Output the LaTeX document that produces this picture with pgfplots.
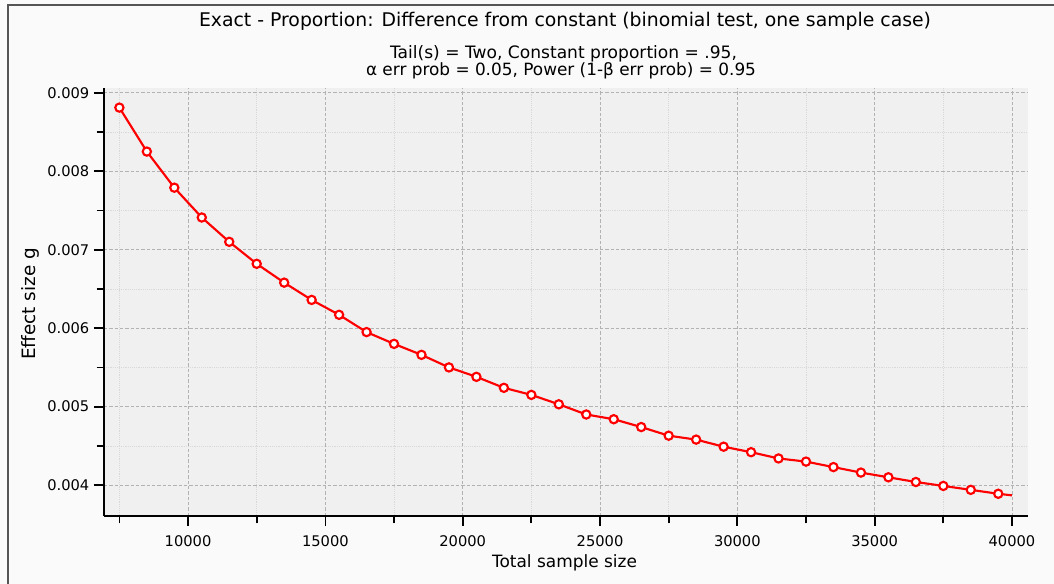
\documentclass[border=0pt]{standalone}
\usepackage{pgfplots}
\pgfplotsset{compat=1.18}
\usepackage{pgfplotstable}
\usepackage{fontspec}
\setmainfont{DejaVu Sans}
\definecolor{bgout}{HTML}{FAFAFA}
\definecolor{bgin}{HTML}{F0F0F0}
\definecolor{framec}{HTML}{555555}

% compute a font size (pt) that makes #3 be #2 px wide (1px = 0.75pt)
\newcommand\fitsize[3]{%
  \setbox0\hbox{\fontsize{10}{12}\selectfont #3}%
  \pgfmathsetmacro#1{10*#2*0.75/\the\wd0}%
}

\pgfplotstableread{
x y
7500 0.00881
8500 0.00825
9500 0.00779
10500 0.00741
11500 0.00710
12500 0.00682
13500 0.00658
14500 0.00636
15500 0.00617
16500 0.00595
17500 0.00580
18500 0.00566
19500 0.00550
20500 0.00538
21500 0.00524
22500 0.00515
23500 0.00503
24500 0.00490
25500 0.00484
26500 0.00474
27500 0.00463
28500 0.00458
29500 0.00449
30500 0.00442
31500 0.00434
32500 0.00430
33500 0.00423
34500 0.00416
35500 0.00410
36500 0.00404
37500 0.00399
38500 0.00394
39500 0.00389
40000 0.00387
}\datatable

\begin{document}
\fitsize\fsA{732}{Exact - Proportion: Difference from constant (binomial test, one sample case)}%
\fitsize\fsB{347}{Tail(s) = Two, Constant proportion = .95,}%
\fitsize\fsC{390}{α err prob = 0.05, Power (1-β err prob) = 0.95}%
\fitsize\fsD{145}{Total sample size}%
\fitsize\fsE{112}{Effect size g}%
\begin{tikzpicture}[x=0.75pt,y=0.75pt]
\fill[bgout] (0,0) rectangle (1054,584);
\useasboundingbox (0,0) rectangle (1054,584);
\draw[framec, line width=1.3pt] (8,-2) -- (8,579) -- (1056,579);

\begin{axis}[
  at={(104*0.75pt,68*0.75pt)}, anchor=south west,
  scale only axis, width=693pt, height=321pt,
  xmin=6940, xmax=40583, ymin=0.003607, ymax=0.00906,
  axis x line*=bottom, axis y line*=left,
  axis line style={line width=1.5pt, black},
  axis background/.style={fill=bgin},
  tick align=outside,
  xtick={10000,15000,20000,25000,30000,35000,40000},
  minor xtick={7500,12500,17500,22500,27500,32500,37500},
  ytick={0.004,0.005,0.006,0.007,0.008,0.009},
  minor ytick={0.0045,0.0055,0.0065,0.0075,0.0085},
  major tick length=7.5pt, minor tick length=5.5pt,
  major tick style={line width=1.3pt, black},
  minor tick style={line width=1.3pt, black},
  grid=both,
  major grid style={dash pattern=on 2.5pt off 1.5pt, line width=0.6pt, black!30},
  minor grid style={densely dotted, line width=0.6pt, black!15},
  scaled x ticks=false, scaled y ticks=false,
  xticklabel style={yshift=-4pt, /pgf/number format/.cd, set thousands separator={}},
  yticklabel style={/pgf/number format/.cd, fixed, fixed zerofill, precision=3},
  /pgf/number format/assume math mode=true,
  tick label style={font=\fontsize{11}{13}\selectfont},
  clip=false,
]
\addplot[red, line width=1.6pt, mark=none] table[x=x,y=y]{\datatable};
\addplot[only marks, mark=*, mark size=3.1pt, mark options={fill=white, draw=red, line width=1.6pt},
  restrict x to domain=7000:39600] table[x=x,y=y]{\datatable};
\end{axis}

\node[font=\fontsize{\fsA}{\fsA}\selectfont] at (565,563) {Exact - Proportion: Difference from constant (binomial test, one sample case)};
\node[font=\fontsize{\fsB}{\fsB}\selectfont] at (563.5,530) {Tail(s) = Two, Constant proportion = .95,};
\node[font=\fontsize{\fsC}{\fsC}\selectfont] at (561,513) {α err prob = 0.05, Power (1-β err prob) = 0.95};
\node[font=\fontsize{\fsD}{\fsD}\selectfont] at (564.5,21) {Total sample size};
\node[font=\fontsize{\fsE}{\fsE}\selectfont, rotate=90] at (30,280) {Effect size g};
\end{tikzpicture}
\end{document}
